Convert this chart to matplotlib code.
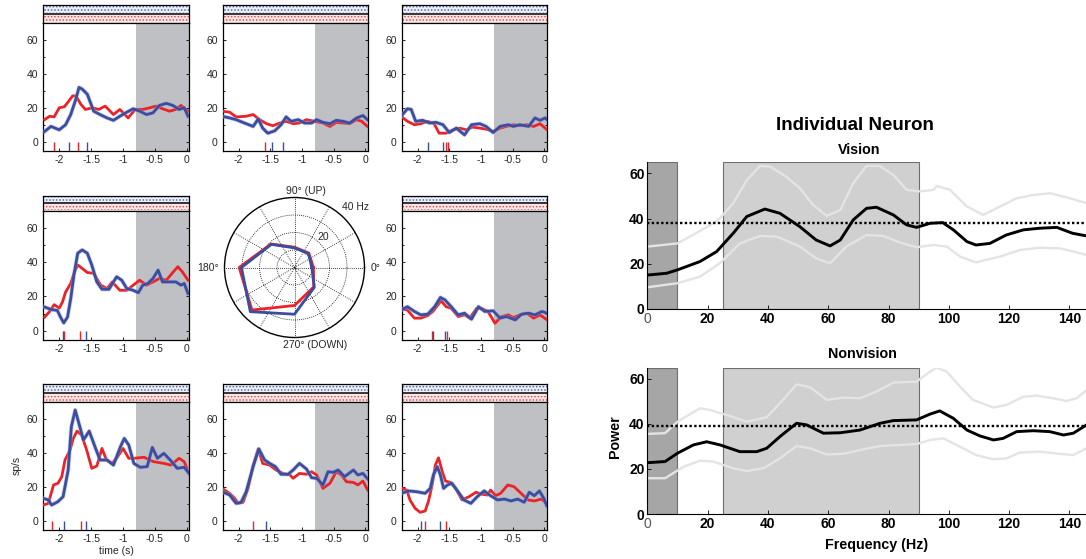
import matplotlib
matplotlib.use('Agg')
import matplotlib.pyplot as plt
import numpy as np
from matplotlib.patches import Rectangle

# ---------------- DATA ----------------
# PSTH panels: [time (s), rate (sp/s)]
p1_red = [[-2.23,13],[-2.15,15],[-2.08,14.6],[-2.0,20],[-1.92,20.6],[-1.87,23],[-1.79,27],[-1.74,27],[-1.66,22],[-1.59,19],[-1.48,20],[-1.38,19],[-1.28,21],[-1.15,16],[-1.05,19],[-0.92,14],[-0.81,19],[-0.69,19],[-0.58,20],[-0.48,21],[-0.38,19.4],[-0.27,18],[-0.17,19],[-0.09,21.4],[-0.02,19],[0.02,18]]
p1_blue = [[-2.23,6],[-2.13,9],[-2.0,7],[-1.9,10],[-1.82,16],[-1.74,25],[-1.69,32],[-1.64,31],[-1.56,28],[-1.46,18],[-1.36,16],[-1.25,14],[-1.15,12.6],[-1.05,15],[-0.94,17.4],[-0.84,19.4],[-0.74,18],[-0.63,16],[-0.53,17],[-0.43,21.4],[-0.32,22.6],[-0.22,21.4],[-0.12,19],[-0.04,20],[0.02,15]]
p1_red_ev = [-2.09, -1.71]
p1_blue_ev = [-1.85, -1.57]

p2_red = [[-2.26,18],[-2.14,17.4],[-2.04,14.6],[-1.88,15],[-1.77,16],[-1.67,13],[-1.56,10.6],[-1.46,9.4],[-1.35,11],[-1.25,12],[-1.14,10.6],[-1.04,11],[-0.93,13],[-0.8,12],[-0.67,11],[-0.56,9],[-0.46,11.4],[-0.35,11],[-0.25,10.6],[-0.14,13],[-0.06,12],[0.03,9]]
p2_blue = [[-2.26,15],[-2.14,14],[-2.04,13],[-1.88,10.6],[-1.77,9],[-1.69,13.4],[-1.62,8],[-1.54,5],[-1.43,6.4],[-1.33,10],[-1.25,14.6],[-1.17,12],[-1.06,13],[-0.96,11],[-0.85,11],[-0.77,13],[-0.67,11.4],[-0.56,10.6],[-0.46,12.6],[-0.35,12],[-0.25,11],[-0.14,14],[-0.04,15.4],[0.03,13]]
p2_red_ev = [-1.59]
p2_blue_ev = [-1.48, -1.30]

p3_red = [[-2.26,15],[-2.16,12],[-2.05,10],[-1.95,10.6],[-1.84,12],[-1.74,10.6],[-1.66,5],[-1.55,5],[-1.44,7],[-1.34,8],[-1.23,7],[-1.13,8.6],[-1.02,8],[-0.92,7.4],[-0.81,6],[-0.7,8],[-0.6,9],[-0.49,10],[-0.39,9.4],[-0.28,10],[-0.17,9],[-0.07,10.6],[0.04,7]]
p3_blue = [[-2.26,15],[-2.16,19.4],[-2.1,19],[-2.03,12],[-1.92,12.6],[-1.81,11],[-1.71,11.4],[-1.6,10],[-1.5,5.4],[-1.39,8],[-1.26,4],[-1.15,10],[-1.02,10.6],[-0.92,9],[-0.81,5.4],[-0.7,9],[-0.57,10],[-0.49,9],[-0.39,10],[-0.25,9],[-0.15,14],[-0.07,12.6],[0.01,14],[0.04,13]]
p3_red_ev = [-1.55, -1.52]
p3_blue_ev = [-1.83, -1.60]

p4_red = [[-2.23,7.9],[-2.15,11.2],[-2.08,15.2],[-2.0,13.2],[-1.95,16.7],[-1.9,22.6],[-1.82,27.6],[-1.76,34.4],[-1.71,38.4],[-1.64,36.4],[-1.56,34],[-1.46,33.5],[-1.35,26.6],[-1.25,24.6],[-1.17,28.5],[-1.05,23.6],[-0.94,23.6],[-0.84,26.6],[-0.74,29.5],[-0.63,26.6],[-0.53,28.5],[-0.43,30.5],[-0.32,29.5],[-0.22,34],[-0.14,37.4],[-0.07,34.4],[0.02,29.5]]
p4_blue = [[-2.23,13.8],[-2.13,12.4],[-2.03,11.8],[-1.98,7.9],[-1.93,4.5],[-1.87,7.9],[-1.82,18.7],[-1.77,32.5],[-1.71,45.3],[-1.64,47.2],[-1.56,45.3],[-1.49,38.4],[-1.41,28.5],[-1.33,24.2],[-1.22,24.2],[-1.15,28.5],[-1.1,31.5],[-1.02,29.5],[-0.94,24.6],[-0.84,23.6],[-0.76,22.2],[-0.69,26.6],[-0.61,27.6],[-0.53,30.5],[-0.45,35.4],[-0.38,28.5],[-0.27,28.5],[-0.17,28.5],[-0.09,26.6],[-0.04,27.6],[0.02,21.7]]
p4_red_ev = [-1.92, -1.68]
p4_blue_ev = [-1.94, -1.58]

p6_red = [[-2.26,13],[-2.16,12],[-2.05,7.3],[-1.95,7.3],[-1.84,8.8],[-1.76,11.2],[-1.68,15],[-1.63,17.5],[-1.55,14],[-1.47,13],[-1.36,8.2],[-1.26,9.2],[-1.18,7.3],[-1.07,13],[-0.99,13],[-0.89,11.2],[-0.78,4.3],[-0.68,8.2],[-0.57,9.2],[-0.49,7.6],[-0.39,9.2],[-0.28,10.2],[-0.17,7.3],[-0.07,9.2],[0.04,6.3]]
p6_blue = [[-2.26,12],[-2.16,14],[-2.05,11.2],[-1.95,9.2],[-1.84,9.6],[-1.73,14],[-1.64,19.4],[-1.57,18],[-1.47,14],[-1.36,9.2],[-1.26,10.2],[-1.15,6.7],[-1.04,14],[-0.94,11.2],[-0.81,11.6],[-0.7,7.3],[-0.6,8.2],[-0.46,6.3],[-0.36,9.6],[-0.25,10.2],[-0.15,9.2],[-0.04,11.2],[0.04,10.2]]
p6_red_ev = [-1.77, -1.53]
p6_blue_ev = [-1.75, -1.56]

p7_red = [[-2.25,9.2],[-2.17,10.2],[-2.09,21],[-2.02,22],[-1.96,25.9],[-1.91,35.7],[-1.83,41.6],[-1.78,48.4],[-1.72,52.7],[-1.65,50.4],[-1.57,41.6],[-1.49,30.8],[-1.41,32.2],[-1.33,42.5],[-1.26,35.7],[-1.17,33.7],[-1.09,37.3],[-1.0,42.5],[-0.91,36.7],[-0.83,36.7],[-0.67,37.3],[-0.52,34.7],[-0.36,33.7],[-0.25,32.7],[-0.12,36.7],[-0.04,34.7],[0.035,27.8]]
p7_blue = [[-2.25,13.1],[-2.17,12.2],[-2.12,9.2],[-2.02,11.2],[-1.94,14.1],[-1.86,29.8],[-1.81,55.3],[-1.75,65.1],[-1.67,54.3],[-1.62,47.5],[-1.53,52.7],[-1.44,43.5],[-1.36,35.7],[-1.25,35.7],[-1.15,32.7],[-1.04,43.5],[-0.98,48.4],[-0.91,44.5],[-0.83,33.7],[-0.73,31.4],[-0.62,31.8],[-0.54,43.1],[-0.46,36.7],[-0.36,39.6],[-0.25,35.3],[-0.15,30.8],[-0.04,31.4],[0.035,27.8]]
p7_red_ev = [-2.11, -1.66]
p7_blue_ev = [-1.93, -1.58]

p8_red = [[-2.26,19],[-2.14,16],[-2.06,13.1],[-2.01,10.2],[-1.93,10.8],[-1.85,19],[-1.77,32.7],[-1.69,42.2],[-1.62,33.7],[-1.51,32.7],[-1.41,29.8],[-1.3,27.8],[-1.19,26.9],[-1.14,24.9],[-1.04,27.8],[-0.93,27.3],[-0.85,28.8],[-0.77,26.9],[-0.67,19],[-0.56,22],[-0.46,28.8],[-0.38,26.9],[-0.3,22.9],[-0.19,22.5],[-0.12,21],[-0.04,23.3],[0.035,18]]
p8_blue = [[-2.26,17],[-2.14,15.1],[-2.04,10.2],[-1.96,10.8],[-1.88,17],[-1.77,31.8],[-1.68,42.2],[-1.59,35.7],[-1.51,33.7],[-1.42,31.8],[-1.33,27.3],[-1.22,27.3],[-1.14,29.8],[-1.04,33.7],[-0.93,30.4],[-0.85,25.3],[-0.77,24.9],[-0.67,21],[-0.59,28.8],[-0.51,28.4],[-0.43,29.8],[-0.33,25.9],[-0.19,29.8],[-0.12,26.9],[-0.04,27.8],[0.035,24.5]]
p8_red_ev = [-1.78]
p8_blue_ev = [-1.56]

p9_red = [[-2.25,19],[-2.17,18],[-2.12,12.2],[-2.04,7.3],[-1.96,4.9],[-1.88,5.7],[-1.83,11.2],[-1.77,21],[-1.72,32.7],[-1.67,37],[-1.61,28.8],[-1.56,23.3],[-1.48,22.5],[-1.4,19],[-1.3,12.2],[-1.19,14.1],[-1.08,16.7],[-0.98,15.5],[-0.9,15.1],[-0.85,18],[-0.77,14.7],[-0.69,16.1],[-0.58,21],[-0.48,20],[-0.37,16.1],[-0.26,12.2],[-0.16,11.6],[-0.05,12.7],[0.035,10.2]]
p9_blue = [[-2.25,16.1],[-2.14,17.5],[-2.01,17],[-1.88,16.1],[-1.8,19],[-1.75,26.9],[-1.69,31.8],[-1.64,26.9],[-1.59,19],[-1.53,21],[-1.46,22],[-1.38,18],[-1.27,12.2],[-1.16,10.2],[-1.06,14.1],[-0.95,17.5],[-0.85,14.7],[-0.74,12.2],[-0.63,12.7],[-0.53,11.6],[-0.42,12.7],[-0.32,10.8],[-0.24,16.7],[-0.16,14.7],[-0.08,17.5],[-0.01,13.1],[0.035,8.8]]
p9_red_ev = [-1.89, -1.55]
p9_blue_ev = [-1.95, -1.64]

time_ticks = [-2, -1.5, -1, -0.5, 0]
time_tick_labels = ['-2', '-1.5', '-1', '-0.5', '0']
rate_ticks = [0, 20, 40, 60]

# Polar tuning (direction in degrees, rate in Hz)
directions = [0, 45, 90, 135, 180, 225, 270, 315]
polar_red = [10.8, 11.6, 11.6, 19.0, 31.6, 34.4, 21.7, 15.6]
polar_blue = [9.9, 11.3, 11.2, 18.7, 30.3, 35.7, 26.7, 16.0]

# Power spectra: [frequency (Hz), power]
vis_mean = [[0,15.0],[6.4,15.8],[10,17.3],[17.5,21],[23,25.4],[28.5,33.5],[33,40.9],[39,44.2],[44,42.3],[50.6,36.4],[56,30.5],[60.6,27.9],[64,30.5],[68.3,39.4],[72.7,44.5],[76,45],[81.6,41.6],[86,37.2],[89.3,36.1],[93.8,37.9],[98,38.2],[101.5,35],[106,29.8],[109,28.3],[113.6,29],[119,32.7],[124.7,35],[130,35.7],[135.8,36.1],[141,33.5],[145.7,32.3]]
vis_upper = [[0,27.6],[10,29],[15,32.7],[21,37.2],[24,40],[28.5,46.8],[33,57],[37.4,63.3],[40.7,63],[46,58.6],[50.6,53.4],[55,46],[59.5,41.2],[64,43.8],[68.3,55.6],[72.7,63.3],[77,63.3],[81.6,59.3],[86,52.7],[90.4,52],[95,52.7],[96,54.4],[100.4,52.7],[106,45.3],[111.4,41.6],[117,45.3],[122.5,49],[128,50.4],[133.5,51.2],[139,49.4],[145.7,46.8]]
vis_lower = [[0,9.6],[10,11.4],[17.5,14.3],[24,20.2],[30.7,29],[37.4,32.3],[43,32],[50.6,27.6],[56,22.4],[60.6,20.2],[66,27.6],[72.7,32.7],[78.3,32.3],[83.8,29.4],[89.3,27.3],[95,28.3],[99.3,27.6],[103.7,23.2],[109,20.6],[117,23.2],[123.6,26.1],[130,27.1],[137,26.8],[145.7,23.9]]
vis_thresh = 38.2

nonvis_mean = [[0,22.8],[5.9,23.3],[10,27],[15.3,30.7],[19.7,32.1],[24.1,30.7],[30.7,27.7],[36.3,27.7],[39.6,29.2],[44,34.4],[49.5,40.3],[52.8,39.6],[58.4,35.9],[64,36.1],[70.5,37.3],[77.2,40.3],[81.6,41.5],[89.3,41.8],[93.8,44.4],[97,45.8],[101.5,42.5],[106,37.3],[110.3,34.7],[114.8,32.9],[118,33.6],[122.5,36.6],[128,37],[133.5,36.6],[138,35.1],[141.3,35.9],[145.7,39.6]]
nonvis_upper = [[0,35.6],[5.9,35.9],[10,41],[17.5,47],[20.8,46.2],[26.3,44],[33,41],[39.6,43],[45,50.7],[49.5,57.6],[54,56.3],[59.5,50.7],[65,51.7],[70.5,51.4],[76,54.4],[81.6,58.4],[89.3,58.8],[93.8,63.3],[96,65],[99.3,63.3],[103.7,56.6],[108,50.7],[114.8,47.3],[119,48.4],[124.7,52.1],[129,52.6],[134.7,51.4],[139,50.2],[142.4,51.4],[145.7,55.1]]
nonvis_lower = [[0,15.9],[5.9,15.9],[12,21],[17.5,23.7],[21.9,23.3],[28.5,20.3],[33,19.1],[38.5,20.3],[44,24.7],[49.5,30.2],[54,29.2],[59.5,26.5],[65,26.7],[70.5,28.4],[77.2,30.2],[83.8,30.7],[89.3,31.1],[93.8,32.9],[98.2,33.6],[103.7,29.9],[109,26.2],[114.8,24.3],[119,24.7],[123.6,27.3],[130,27.7],[137,26.7],[141.3,26.2],[145.7,29.2]]
nonvis_thresh = 39.3

low_band = (0, 10)
gamma_band = (25, 90)
freq_ticks = [0, 20, 40, 60, 80, 100, 120, 140]
power_ticks = [0, 20, 40, 60]

# ---------------- STYLE ----------------
W, H = 1086, 559
RED = '#ec2227'
BLUE = '#3a4d9f'
SHADE = '#bfc0c4'
TXT = '#262626'
FONT = 'Liberation Sans'
plt.rcParams['font.family'] = [FONT, 'DejaVu Sans']
plt.rcParams['hatch.linewidth'] = 0.7

fig = plt.figure(figsize=(W / 100, H / 100), dpi=100)


def px_axes(l, t, r, b, **kw):
    return fig.add_axes([l / W, 1 - b / H, (r - l) / W, (b - t) / H], **kw)


def ftext(x, y, s, **kw):
    fig.text(x / W, 1 - y / H, s, **kw)


XL = (-2.25, 0.035)
YL = (-5.5, 70)

cols = [(43.3, 189.0), (222.7, 367.7), (401.7, 546.7)]
rows = [(5.0, 23.0, 151.0), (195.7, 211.0, 340.0), (384.0, 401.7, 530.0)]

panels = {
    (0, 0): (p1_red, p1_blue, p1_red_ev, p1_blue_ev),
    (0, 1): (p2_red, p2_blue, p2_red_ev, p2_blue_ev),
    (0, 2): (p3_red, p3_blue, p3_red_ev, p3_blue_ev),
    (1, 0): (p4_red, p4_blue, p4_red_ev, p4_blue_ev),
    (1, 2): (p6_red, p6_blue, p6_red_ev, p6_blue_ev),
    (2, 0): (p7_red, p7_blue, p7_red_ev, p7_blue_ev),
    (2, 1): (p8_red, p8_blue, p8_red_ev, p8_blue_ev),
    (2, 2): (p9_red, p9_blue, p9_red_ev, p9_blue_ev),
}

for (ri, ci), (red, blue, rev, bev) in panels.items():
    l, r = cols[ci]
    rt, mt, mb = rows[ri]
    # raster strip
    ra = px_axes(l, rt, r, mt)
    ra.set_xlim(XL)
    ra.set_ylim(0, 2)
    ra.set_xticks([])
    ra.set_yticks([])
    for s in ra.spines.values():
        s.set_linewidth(0.9)
    ra.add_patch(Rectangle((XL[0], 1.08), XL[1] - XL[0], 0.84, facecolor='#eef0f8',
                           edgecolor='#5062b0', hatch='.....', lw=0))
    ra.add_patch(Rectangle((XL[0], 0.08), XL[1] - XL[0], 0.84, facecolor='#fbe9e9',
                           edgecolor='#f04848', hatch='.....', lw=0))
    ra.axhline(1, color='black', lw=1.1)

    ax = px_axes(l, mt, r, mb)
    ax.set_xlim(XL)
    ax.set_ylim(YL)
    ax.axvspan(-0.8, XL[1], color=SHADE, lw=0, zorder=0)
    rt_, rv_ = zip(*red)
    bt_, bv_ = zip(*blue)
    ax.plot(rt_, rv_, color=RED, lw=2.0, solid_joinstyle='round', zorder=3)
    ax.plot(bt_, bv_, color='#9aa4d4', lw=3.1, alpha=0.5, solid_joinstyle='round', zorder=3.5)
    ax.plot(bt_, bv_, color=BLUE, lw=2.0, solid_joinstyle='round', zorder=4)
    ax.vlines(rev, YL[0], 0, color=RED, lw=1.0, zorder=5)
    ax.vlines(bev, YL[0], 0, color=BLUE, lw=1.0, zorder=5)
    ax.set_xticks(time_ticks)
    ax.set_xticklabels(time_tick_labels)
    ax.set_yticks(rate_ticks)
    ax.set_yticks([10, 30, 50], minor=True)
    ax.tick_params(axis='both', which='both', direction='in', labelsize=7.5,
                   labelcolor=TXT, width=0.6)
    ax.tick_params(axis='both', which='major', length=2.5)
    ax.tick_params(axis='y', which='minor', length=1.5)
    ax.tick_params(axis='y', which='both', right=True)
    ax.tick_params(axis='x', which='both', top=False, pad=3)
    for s in ax.spines.values():
        s.set_linewidth(0.9)
    if (ri, ci) == (2, 0):
        ax.set_xlabel('time (s)', fontsize=7.5, color=TXT, labelpad=1)
        ax.set_ylabel('sp/s', fontsize=7.5, color=TXT, labelpad=4)

# ---------------- polar tuning ----------------
pax = px_axes(224.5, 197.5, 364.5, 337.5, projection='polar')
th = np.deg2rad(directions + [directions[0]])
pax.plot(th, polar_red + [polar_red[0]], color=RED, lw=2.0, zorder=3)
pax.plot(th, polar_blue + [polar_blue[0]], color=BLUE, lw=2.0, zorder=4)
pax.set_ylim(0, 40)
pax.set_yticks([10, 20, 30])
pax.set_xticks(np.deg2rad(np.arange(0, 360, 30)))
pax.set_xticklabels([])
pax.set_yticklabels([])
pax.grid(True, color='black', linestyle=(0, (1, 1.5)), lw=0.6)
pax.spines['polar'].set_linewidth(1.0)
pax.tick_params(length=0)
ftext(286, 191, '90° (UP)', fontsize=7.5, color=TXT, ha='left', va='center')
ftext(283, 345, '270° (DOWN)', fontsize=7.5, color=TXT, ha='left', va='center')
ftext(371, 268, '0°', fontsize=7.5, color=TXT, ha='left', va='center')
ftext(219, 268, '180°', fontsize=7.5, color=TXT, ha='right', va='center')
ftext(355, 207, '40 Hz', fontsize=7.5, color=TXT, ha='center', va='center')
ftext(323, 237, '20', fontsize=7.5, color=TXT, ha='center', va='center')

# ---------------- spectra ----------------
def spectrum(ax, mean, upper, lower, thr):
    ax.set_xlim(0, 150)
    ax.set_ylim(0, 65)
    ax.axvspan(*low_band, facecolor='#a6a6a6', edgecolor='#6e6e6e', lw=0.8, zorder=0)
    ax.axvspan(*gamma_band, facecolor='#d0d0d0', edgecolor='#6e6e6e', lw=0.8, zorder=0)
    for ser in (upper, lower):
        f, v = zip(*ser)
        ax.plot(f, v, color='#e4e4e4', lw=1.7, zorder=2)
    f, v = zip(*mean)
    ax.plot(f, v, color='black', lw=2.1, zorder=3)
    ax.axhline(thr, color='black', lw=1.7, linestyle=(0, (1, 1)), zorder=4)
    for k in ('top', 'right'):
        ax.spines[k].set_visible(False)
    for k in ('left', 'bottom'):
        ax.spines[k].set_linewidth(0.8)
    ax.set_xticks(freq_ticks)
    ax.set_yticks(power_ticks)
    ax.tick_params(direction='in', length=3, width=0.6, labelsize=10, pad=2)
    for lab in ax.get_yticklabels():
        lab.set_fontweight('bold')
    labs = ax.get_xticklabels()
    for i, lab in enumerate(labs):
        if i == 0:
            lab.set_color('#555555')
        else:
            lab.set_fontweight('bold')

ax_v = px_axes(647.3, 162.0, 1099.6, 309.0)
spectrum(ax_v, vis_mean, vis_upper, vis_lower, vis_thresh)
ax_n = px_axes(647.3, 367.7, 1099.6, 514.0)
spectrum(ax_n, nonvis_mean, nonvis_upper, nonvis_lower, nonvis_thresh)

ftext(855, 126, 'Individual Neuron', fontsize=13.5, fontweight='bold', ha='center', va='center')
ftext(859, 150, 'Vision', fontsize=10.3, fontweight='bold', ha='center', va='center')
ftext(862, 354, 'Nonvision', fontsize=10.3, fontweight='bold', ha='center', va='center')
ftext(877, 545, 'Frequency (Hz)', fontsize=10.3, fontweight='bold', ha='center', va='center')
ftext(615, 437, 'Power', fontsize=10.3, fontweight='bold', ha='center', va='center', rotation=90)

fig.savefig('out.png', dpi=100)
